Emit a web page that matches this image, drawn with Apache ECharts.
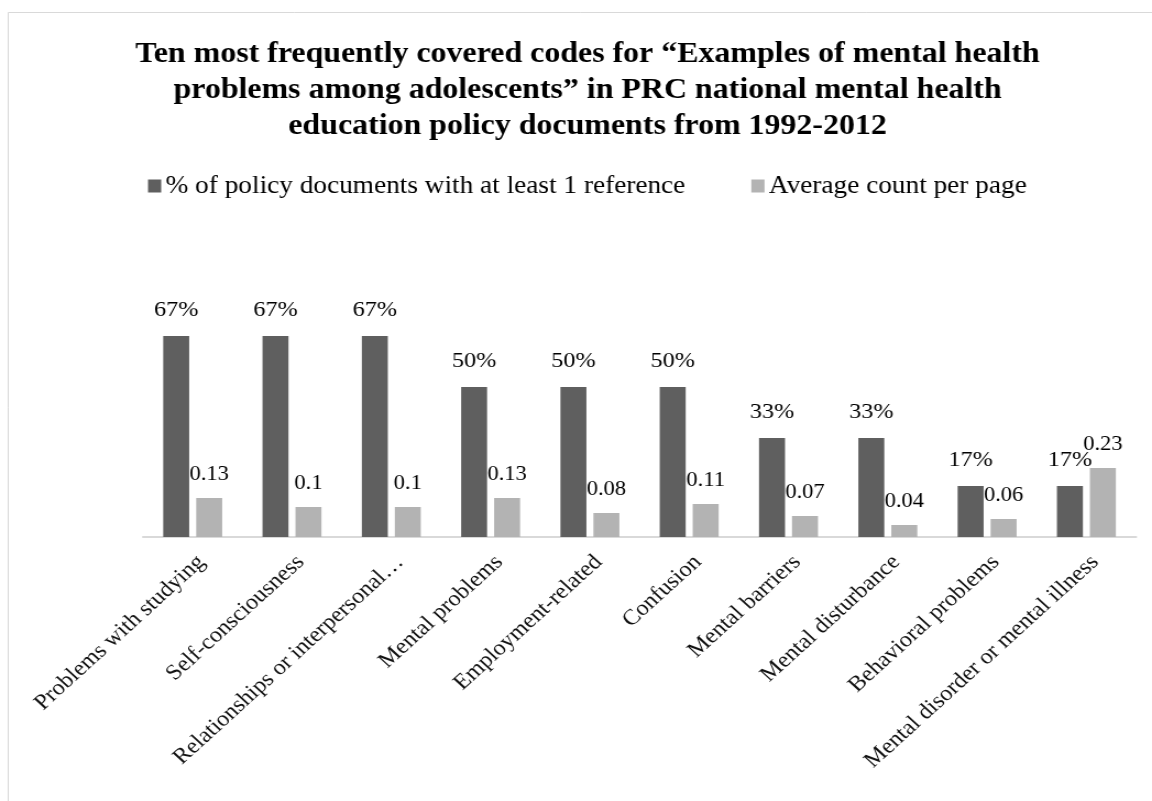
<!DOCTYPE html>
<html>
<head>
<meta charset="utf-8">
<script src="https://cdn.jsdelivr.net/npm/echarts@6/dist/echarts.min.js"></script>
<style>
  html, body { margin: 0; padding: 0; background: #fff; overflow: hidden; }
  /* the chart is laid out 1047px wide and widened to fill the 1152px page */
  #chart {
    width: 1047px;
    height: 801px;
    transform: scaleX(1.10029);
    transform-origin: 0 0;
  }
</style>
</head>
<body>
<div id="chart"></div>
<script>
// Codes and their coverage figures
const categories = [
  'Problems with studying',
  'Self-consciousness',
  'Relationships or interpersonal\u2026',
  'Mental problems',
  'Employment-related',
  'Confusion',
  'Mental barriers',
  'Mental disturbance',
  'Behavioral problems',
  'Mental disorder or mental illness'
];
const pctDocuments = [0.67, 0.67, 0.67, 0.50, 0.50, 0.50, 0.33, 0.33, 0.17, 0.17];
const avgPerPage = [0.13, 0.10, 0.10, 0.13, 0.08, 0.11, 0.07, 0.04, 0.06, 0.23];
const seriesNames = ['% of policy documents with at least 1 reference', 'Average count per page'];
const titleText = 'Ten most frequently covered codes for \u201cExamples of mental health\nproblems among adolescents\u201d in PRC national mental health\neducation policy documents from 1992-2012';

const FONT = '"Liberation Serif", "Times New Roman", serif';
const chart = echarts.init(document.getElementById('chart'), null, { renderer: 'canvas' });

chart.setOption({
  backgroundColor: '#ffffff',
  animation: false,
  graphic: [{
    type: 'rect',
    shape: { x: 7.5, y: 12.5, width: 1060, height: 820 },
    style: { fill: 'none', stroke: '#d9d9d9', lineWidth: 1 },
    silent: true
  }],
  title: {
    text: titleText,
    left: 529,
    textAlign: 'center',
    top: 32,
    textStyle: {
      fontFamily: FONT,
      fontWeight: 'bold',
      fontSize: 29,
      lineHeight: 36,
      color: '#000'
    }
  },
  legend: {
    data: seriesNames,
    left: 129.5,
    top: 168.5,
    itemWidth: 12,
    itemHeight: 13,
    itemGap: 60,
    icon: 'rect',
    textStyle: { fontFamily: FONT, fontSize: 24.8, color: '#000', padding: [0, 0, 0, -1] }
  },
  grid: { left: 130, right: 14.5, top: 297, bottom: 264, containLabel: false },
  xAxis: {
    type: 'category',
    data: categories,
    axisLine: { lineStyle: { color: '#d9d9d9', width: 2 } },
    axisTick: { show: false },
    axisLabel: {
      rotate: 45,
      interval: 0,
      margin: 14,
      align: 'right',
      verticalAlign: 'top',
      fontFamily: FONT,
      fontSize: 22,
      color: '#111'
    }
  },
  yAxis: {
    type: 'value',
    min: 0,
    max: 0.8,
    show: false,
    splitLine: { show: false }
  },
  series: [
    {
      name: seriesNames[0],
      type: 'bar',
      data: pctDocuments,
      barWidth: 23.6,
      barGap: '27%',
      itemStyle: { color: '#5f5f5f' },
      label: {
        show: true,
        position: 'top',
        distance: 14.5,
        fontFamily: FONT,
        fontSize: 22,
        color: '#000',
        formatter: p => Math.round(p.value * 100) + '%'
      }
    },
    {
      name: seriesNames[1],
      type: 'bar',
      data: avgPerPage,
      barWidth: 23.6,
      itemStyle: { color: '#b3b3b3' },
      label: {
        show: true,
        position: 'top',
        distance: 12.5,
        fontFamily: FONT,
        fontSize: 20.5,
        color: '#000',
        formatter: p => String(p.value)
      }
    }
  ]
});
</script>
</body>
</html>
